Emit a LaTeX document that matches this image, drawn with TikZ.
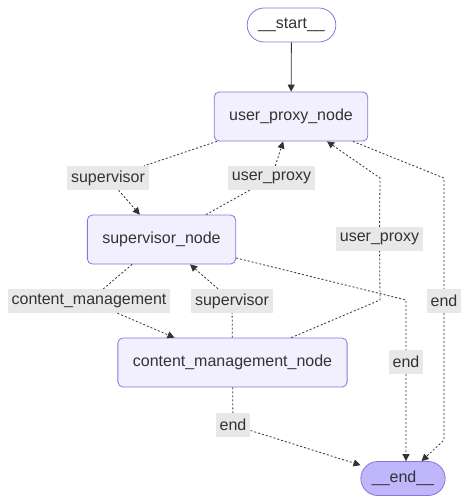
\documentclass[tikz,border=0pt]{standalone}
\usepackage{fontspec}
\setmainfont{Liberation Sans}
\usetikzlibrary{arrows.meta}
\definecolor{Purp} {HTML}{9370DB}
\definecolor{NodeF}{HTML}{F2F0FF}
\definecolor{EndF} {HTML}{BFB6FC}
\definecolor{Ink}  {HTML}{333333}
\definecolor{LblF} {HTML}{E8E8E8}
\tikzset{
  gnode/.style args={#1/#2}{
    rectangle, rounded corners=5pt,
    draw=#1, fill=#2, text=Ink,
    font=\fontsize{16}{19}\selectfont,
    inner xsep=15pt, inner ysep=0pt, minimum height=49pt,
    line width=0.8pt,
  },
  term/.style args={#1/#2}{
    gnode=#1/#2, rounded corners=17pt,
    inner xsep=11pt, minimum height=34pt,
  },
  lbl/.style={
    fill=LblF, text=Ink, font=\fontsize{16}{19}\selectfont,
    inner xsep=4pt, inner ysep=0pt, minimum height=24pt,
  },
  arr/.style={
    -{Triangle[length=7pt,width=7pt]},
    line width=0.8pt, color=Ink,
  },
  dotarr/.style={arr, dash pattern=on 2pt off 2pt},
}
\begin{document}
\begin{tikzpicture}[x=1pt,y=-1pt]
  \useasboundingbox (0,0) rectangle (470,504);

  % graph nodes
  \node[term=Purp/white]  (START) at (291.5,25)  {\_\_start\_\_};
  \node[gnode=Purp/NodeF] (UP)    at (291,116.5) {user\_proxy\_node};
  \node[gnode=Purp/NodeF] (SUP)   at (161.5,239.5) {supervisor\_node};
  \node[gnode=Purp/NodeF] (CM)    at (232.5,362.5) {content\_management\_node};
  \node[term=Purp/EndF]   (END)   at (403,478.5) {\_\_end\_\_};

  % edge labels
  \node[lbl] (L1) at (108,178)   {supervisor};
  \node[lbl] (L2) at (271.5,178) {user\_proxy};
  \node[lbl] (L3) at (379.5,239) {user\_proxy};
  \node[lbl] (L4) at (444,301)   {end};
  \node[lbl] (L5) at (89,301)    {content\_management};
  \node[lbl] (L6) at (232,301)   {supervisor};
  \node[lbl] (L7) at (406,362)   {end};
  \node[lbl] (L8) at (233,425)   {end};

  \coordinate (B1) at (380,300);
  \coordinate (B2) at (380,178);
  \coordinate (C1) at (444,178);
  \coordinate (C2) at (444,440);
  \coordinate (D1) at (406,300);

  \draw[arr] (START) -- (UP);
  \draw[dotarr] (UP) -- (L1) -- (SUP);
  \draw[dotarr] (SUP) -- (L2) -- (UP);
  \draw[dotarr] (CM) -- (B1) -- (L3) -- (B2) -- (UP);
  \draw[dotarr] (UP) -- (C1) -- (L4) -- (C2) -- (END);
  \draw[dotarr] (SUP) -- (L5) -- (CM);
  \draw[dotarr] (CM) -- (L6) -- (SUP);
  \draw[dotarr] (SUP) -- (D1) -- (L7) -- (D1 |- END.north);
  \draw[dotarr] (CM) -- (L8) -- (END);

\end{tikzpicture}
\end{document}
